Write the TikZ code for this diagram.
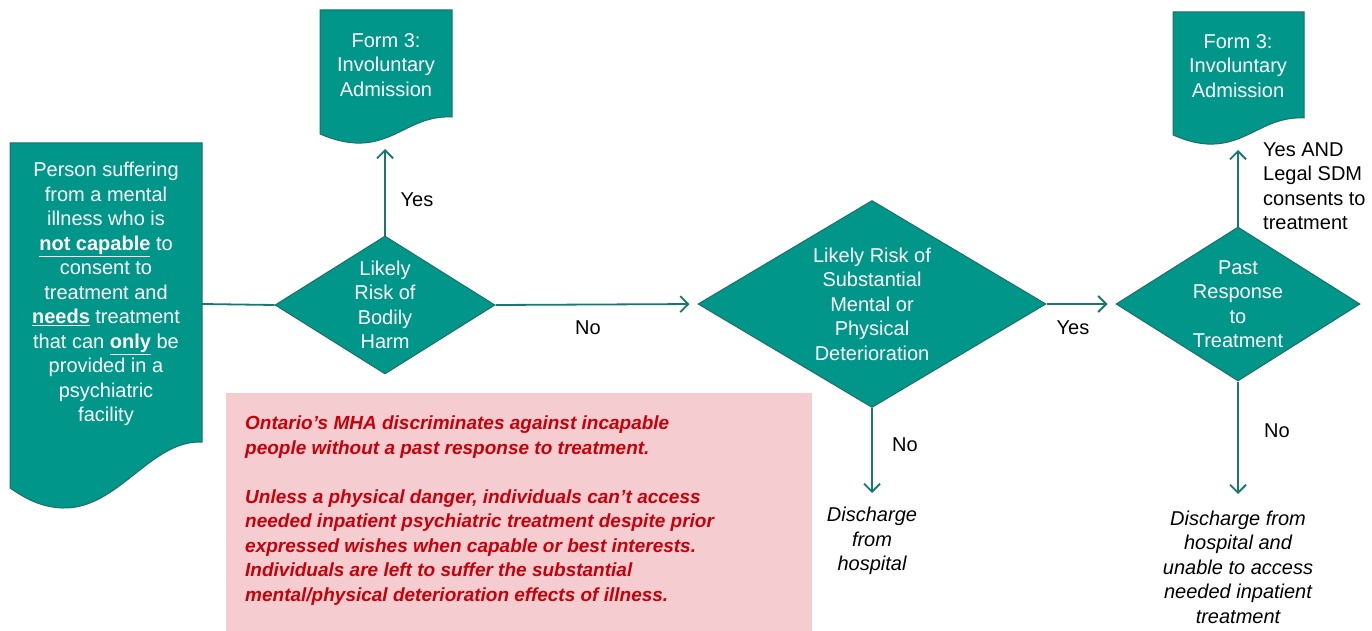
\documentclass[tikz,border=0pt]{standalone}
\usepackage{fontspec}
\setmainfont{Liberation Sans}
\usetikzlibrary{shapes.geometric,arrows.meta}
\definecolor{teal1}{HTML}{00968A}
\definecolor{tealline}{HTML}{1F6F68}
\definecolor{arrowc}{HTML}{1A7770}
\definecolor{pinkbg}{HTML}{F5CDD0}
\definecolor{redtxt}{HTML}{C8000A}
\tikzset{
 docshape/.style={fill=teal1, draw=tealline, line width=1pt},
 dia/.style={diamond, fill=teal1, draw=tealline, line width=1pt, inner sep=0pt},
 wtext/.style={text=white, align=center, font=\fontsize{20}{24.5}\selectfont, inner sep=0pt},
 btext/.style={text=black, align=left, font=\fontsize{20}{24.5}\selectfont, inner sep=0pt},
 itext/.style={text=black, align=center, font=\fontsize{20}{24.5}\selectfont\itshape, inner sep=0pt},
 rtext/.style={text=redtxt, align=left, font=\fontsize{19}{24.5}\selectfont\bfseries\itshape, inner sep=0pt},
 conn/.style={draw=arrowc, line width=1.8pt},
 arr/.style={conn, -{Straight Barb[length=8pt,width=16pt,line width=1.8pt]}},
}
\begin{document}
\begin{tikzpicture}[x=1pt,y=-1pt]
\useasboundingbox (0,0) rectangle (1372,631);
% pink note
\node[fill=pinkbg, minimum width=586pt, minimum height=238pt, anchor=north west, inner sep=0pt] (note) at (226,393) {};
\node[rtext, anchor=north west] (notetext) at (245,416) {Ontario’s MHA discriminates against incapable\\
people without a past response to treatment.\\[24.5pt]
Unless a physical danger, individuals can’t access\\
needed inpatient psychiatric treatment despite prior\\
expressed wishes when capable or best interests.\\
Individuals are left to suffer the substantial\\
mental/physical deterioration effects of illness.};
% left document
\path[docshape] (10,143) -- (202,143) -- (202,442)
  .. controls (150,440) and (118,510) .. (62,508)
  .. controls (38,507) and (22,496) .. (10,488) -- cycle;
\node[wtext] (start) at (106,294) {Person suffering\\ from a mental\\ illness who is\\
\underline{\textbf{not capable}} to\\ consent to\\ treatment and\\
\underline{\textbf{needs}} treatment\\ that can \underline{\textbf{only}} be\\
provided in a\\ psychiatric\\ facility};
\coordinate (docR) at (202,304);
% form 3 left
\path[docshape] (320,10) -- (452,10) -- (452,117)
  .. controls (412,115) and (395,145) .. (355,143)
  .. controls (340,142) and (330,138) .. (320,134) -- cycle;
\node[wtext] (form1) at (386,65) {Form 3:\\ Involuntary\\ Admission};
\coordinate (f1b) at (385,149);
% form 3 right
\path[docshape] (1173,12) -- (1304,12) -- (1304,118)
  .. controls (1264,116) and (1247,146) .. (1207,144)
  .. controls (1192,143) and (1183,139) .. (1173,135) -- cycle;
\node[wtext] (form2) at (1238,66) {Form 3:\\ Involuntary\\ Admission};
\coordinate (f2b) at (1238,150);
% diamonds
\node[dia, minimum width=220pt, minimum height=138pt] (d1) at (385,305) {};
\node[wtext] (d1t) at (d1.center) {Likely\\ Risk of\\ Bodily\\ Harm};
\node[dia, minimum width=348pt, minimum height=207pt] (d2) at (872,304) {};
\node[wtext] (d2t) at (d2.center) {Likely Risk of\\ Substantial\\ Mental or\\ Physical\\ Deterioration};
\node[dia, minimum width=244pt, minimum height=154pt] (d3) at (1238,304) {};
\node[wtext] (d3t) at (d3.center) {Past\\ Response\\ to\\ Treatment};
\coordinate (end2) at (872,493);
\coordinate (end3) at (1238,494);
% connectors
\draw[conn] (docR) -- (d1.west);
\draw[arr] (d1.north) -- (f1b);
\draw[arr, shorten >=8pt] (d1.east) -- (d2.west);
\draw[arr, shorten >=8pt] (d2.east) -- (d3.west);
\draw[arr] (d3.north) -- (f2b);
\draw[arr] (d2.south) -- (end2);
\draw[arr] (d3.south) -- (end3);
% labels
\node[btext] (yes1) at (417,200) {Yes};
\node[btext] (no1) at (588,328) {No};
\node[btext] (yes2) at (1073,328) {Yes};
\node[btext] (no2) at (905,445) {No};
\node[btext] (no3) at (1277,431) {No};
\node[btext, anchor=west] (yes3) at (1263,186) {Yes AND\\ Legal SDM\\ consents to\\ treatment};
\node[itext] (out2) at (872,541) {Discharge\\ from\\ hospital};
\node[itext] (out3) at (1238,567) {Discharge from\\ hospital and\\ unable to access\\ needed inpatient\\ treatment};
\end{tikzpicture}
\end{document}
